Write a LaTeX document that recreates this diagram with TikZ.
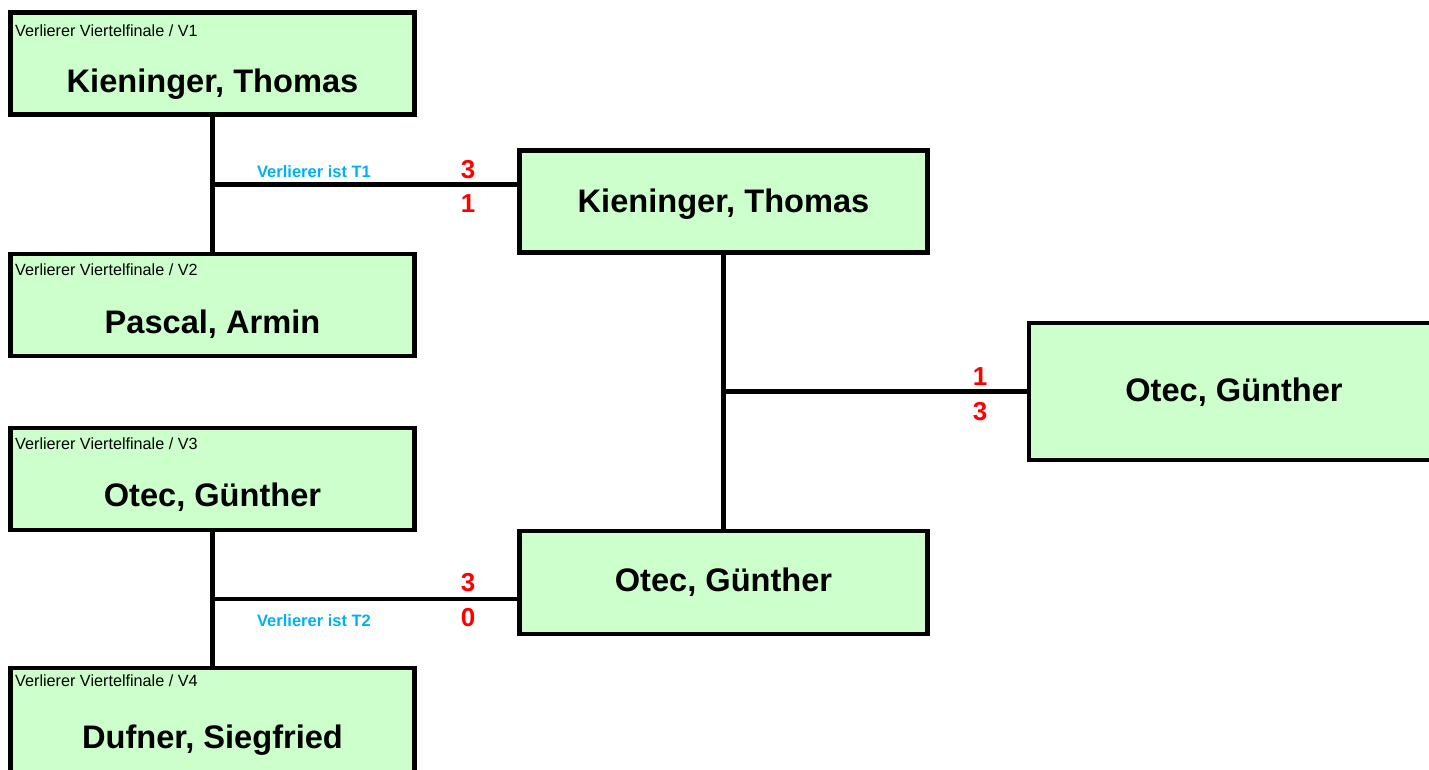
\documentclass[tikz,border=0pt]{standalone}
\usepackage{fontspec}
\setmainfont{Liberation Sans}
\definecolor{boxgreen}{HTML}{CCFFCC}
\definecolor{infoblue}{HTML}{00B0F0}
\definecolor{scorered}{HTML}{FF0000}
\tikzset{
  pbox/.style={draw=black, line width=4.5pt, fill=boxgreen, inner sep=0pt, minimum width=404pt, minimum height=102pt},
  pname/.style={anchor=base, inner sep=0pt, font=\fontsize{32.6}{38}\selectfont\bfseries},
  psmall/.style={anchor=base west, inner sep=0pt, font=\fontsize{16.2}{19}\selectfont},
  pscore/.style={anchor=base, inner sep=0pt, text=scorered, font=\fontsize{26}{30}\selectfont\bfseries},
  pinfo/.style={anchor=base, inner sep=0pt, text=infoblue, font=\fontsize{16.5}{19}\selectfont\bfseries},
  conn/.style={line width=4.5pt, black}
}
\begin{document}
\begin{tikzpicture}[x=1pt, y=-1pt]
\useasboundingbox (0,0) rectangle (1429,769);
% boxes
\node[pbox] (v1) at (212.5,63.5) {};
\node[pbox] (v2) at (212.5,305) {};
\node[pbox] (v3) at (212.5,479) {};
\node[pbox, minimum height=120pt] (v4) at (212.5,728) {};
\node[pbox, minimum width=408pt] (t1) at (723.5,201.5) {};
\node[pbox, minimum width=408pt, minimum height=103pt] (t2) at (723.5,582.3) {};
\node[pbox, minimum width=410pt, minimum height=137pt] (fin) at (1234,391.7) {};
% connectors
\draw[conn] (v1.south) -- (v2.north) coordinate[pos=0.5] (m1);
\draw[conn] (m1) -- (m1 -| t1.west);
\draw[conn] (v3.south) -- (v4.north) coordinate[pos=0.5] (m2);
\draw[conn] (m2) -- (m2 -| t2.west);
\draw[conn] (t1.south) -- (t2.north) coordinate[pos=0.5] (m3);
\draw[conn] (m3) -- (m3 -| fin.west);
% small labels
\node[psmall] (l1) at (15,36) {Verlierer Viertelfinale / V1};
\node[psmall] (l2) at (15,275) {Verlierer Viertelfinale / V2};
\node[psmall] (l3) at (15,449) {Verlierer Viertelfinale / V3};
\node[psmall] (l4) at (15,686) {Verlierer Viertelfinale / V4};
% names
\node[pname] (n1) at (212.5,92.5) {Kieninger, Thomas};
\node[pname] (n2) at (212.5,333.5) {Pascal, Armin};
\node[pname] (n3) at (212.5,506.7) {Otec, Günther};
\node[pname] (n4) at (212.5,748.5) {Dufner, Siegfried};
\node[pname] (n5) at (723.5,212) {Kieninger, Thomas};
\node[pname] (n6) at (723.5,591.7) {Otec, Günther};
\node[pname] (n7) at (1234,401.7) {Otec, Günther};
% scores
\node[pscore] (s1) at (468,178.5) {3};
\node[pscore] (s2) at (468,212) {1};
\node[pscore] (s3) at (468,591) {3};
\node[pscore] (s4) at (468,626) {0};
\node[pscore] (s5) at (980,385.5) {1};
\node[pscore] (s6) at (980,420.5) {3};
% info labels
\node[pinfo] (i1) at (314,177.3) {Verlierer ist T1};
\node[pinfo] (i2) at (314,626.7) {Verlierer ist T2};
\end{tikzpicture}
\end{document}
